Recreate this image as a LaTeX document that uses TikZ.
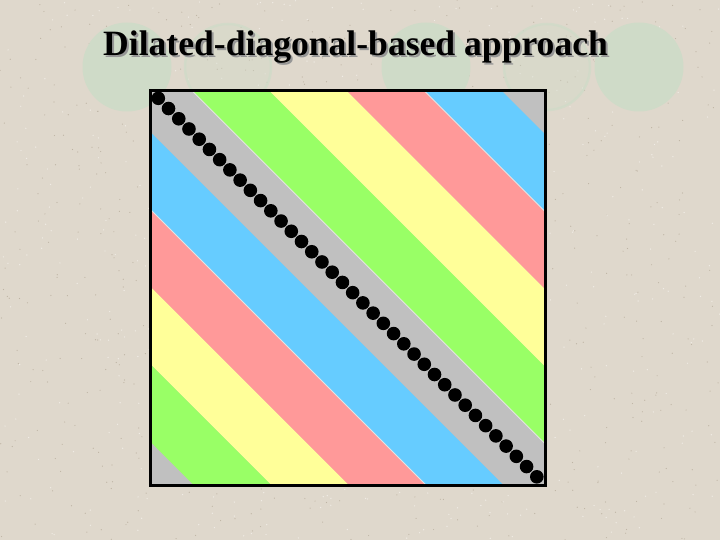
\documentclass[tikz,border=0pt]{standalone}
\usepackage{fontspec}
\setmainfont{Liberation Serif}
\usetikzlibrary{positioning}

\definecolor{paper}{RGB}{223,216,204}
\definecolor{speckdark}{RGB}{190,180,164}
\definecolor{specklight}{RGB}{240,236,229}
\definecolor{decogreen}{RGB}{207,219,200}
\definecolor{shadowgray}{RGB}{150,150,150}
\definecolor{cgray}{RGB}{192,192,192}
\definecolor{cgreen}{RGB}{153,255,102}
\definecolor{cyellow}{RGB}{255,255,153}
\definecolor{cred}{RGB}{255,153,153}
\definecolor{cblue}{RGB}{102,204,255}
\definecolor{seamgray}{RGB}{228,228,228}

\newcommand{\shadowed}[1]{\rlap{\kern2pt\raisebox{-2pt}{\color{shadowgray}#1}}#1}

\begin{document}
\begin{tikzpicture}[
    x=1pt, y=-1pt,
    titletext/.style={inner sep=0pt, anchor=base west, font=\fontsize{35.6}{40}\selectfont\bfseries},
    deco/.style={fill=decogreen},
    faintdeco/.style={fill=decogreen, fill opacity=0.35, draw=decogreen, draw opacity=0.7, line width=2.5pt},
    seam/.style={draw=seamgray, line width=0.9pt},
    dot/.style={fill=black},
    frame/.style={draw=black, line width=2.7pt}
]
    % Background
    \fill[paper] (0,0) rectangle (720,540);
    \useasboundingbox (0,0) rectangle (720,540);
    \pgfmathsetseed{7}
    \foreach \i in {1,...,700}
        \fill[speckdark] (720*rnd, 540*rnd) circle[radius=0.6];
    \foreach \i in {1,...,500}
        \fill[specklight] (720*rnd, 540*rnd) circle[radius=0.7];

    % Circles
    \foreach \cx in {127,426,639}
        \fill[deco] (\cx,67) circle[radius=44.5];
    \foreach \cx in {228,547}
        \path[faintdeco] (\cx,67) circle[radius=43];

    % Title
    \node[titletext] (title) at (103,56) {\shadowed{Dilated-diagonal-based approach}};

    % Bands
    \begin{scope}[shift={(150.3,90.5)}]
        \clip (0,0) rectangle (395,395);
        \fill[cgray] (0,0) rectangle (395,395);
        % above the diagonal
        \foreach \a/\b/\c in {41.5/118.9/cgreen, 118.9/196.3/cyellow, 196.3/273.7/cred, 273.7/351.1/cblue}
            \fill[\c] (\a,0) -- (\b,0) -- (\b+395,395) -- (\a+395,395) -- cycle;
        % below the diagonal
        \foreach \a/\b/\c in {41.5/118.9/cblue, 118.9/196.3/cred, 196.3/273.7/cyellow, 273.7/351.1/cgreen}
            \fill[\c] (0,\a) -- (0,\b) -- (395,\b+395) -- (395,\a+395) -- cycle;
        % light seams
        \draw[seam] (41.5,0) -- (436.5,395);
        \draw[seam] (273.7,0) -- (668.7,395);
        \draw[seam] (0,118.9) -- (395,513.9);
    \end{scope}

    % Diagonal dots
    \foreach \k in {0,...,37}
        \fill[dot] (158.3+10.23*\k, 98.3+10.23*\k) circle[radius=6.8];

    % Frame
    \draw[frame] (150.3,90.5) rectangle (545.3,485.3);
\end{tikzpicture}
\end{document}
